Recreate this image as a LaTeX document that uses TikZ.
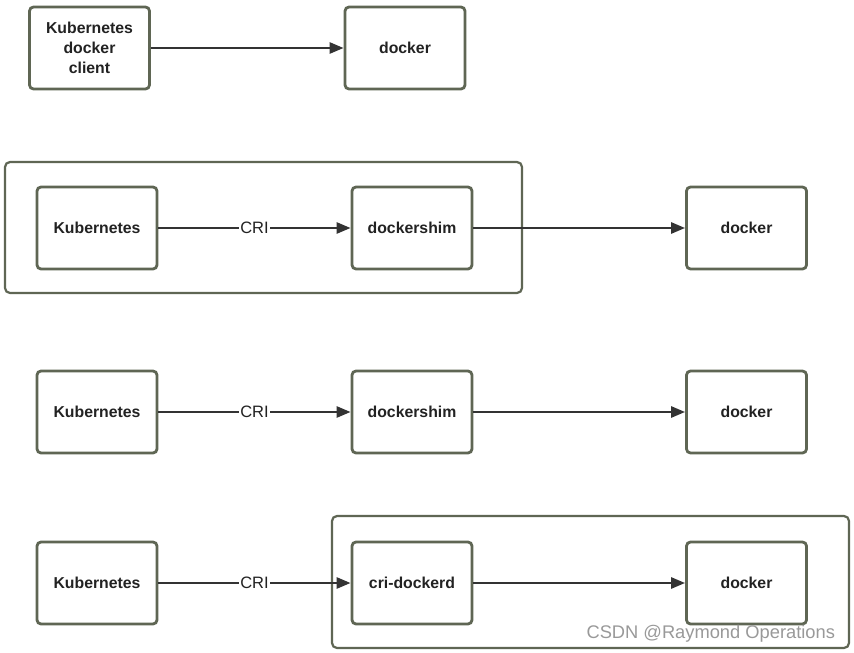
\documentclass[tikz,border=0pt]{standalone}
\usepackage{fontspec}
\setmainfont{Liberation Sans}
\usetikzlibrary{arrows.meta}
\definecolor{boxc}{HTML}{5F6654}
\definecolor{arrc}{HTML}{333333}
\definecolor{txtc}{HTML}{222222}
\tikzset{
  box/.style={draw=boxc, line width=2.8pt, rounded corners=4pt, minimum width=120pt, minimum height=82pt, inner sep=0pt, align=center, font=\bfseries\fontsize{15.8}{20}\selectfont, text=txtc},
  frame/.style={draw=boxc, line width=2.2pt, rounded corners=5pt},
  conn/.style={draw=arrc, line width=2.6pt, -{Triangle[length=14pt, width=11pt]}},
  lbl/.style={fill=white, inner sep=1pt, font=\fontsize{16.5}{18}\selectfont, text=txtc}
}
\begin{document}
\begin{tikzpicture}[x=1pt, y=-1pt]
\useasboundingbox[fill=white] (0,0) rectangle (854,653);
% frames
\draw[frame] (5,162) rectangle (522,293);
\draw[frame] (332,516) rectangle (849,648);
% row 1
\node[box] (k1) at (89.5,48) {Kubernetes\\docker\\client};
\node[box] (d1) at (405,48) {docker};
\draw[conn] (k1) -- (d1);
% row 2
\node[box] (k2) at (97,228) {Kubernetes};
\node[box] (s2) at (412,228) {dockershim};
\node[box] (d2) at (746.5,228) {docker};
\draw[conn] (k2) -- node[lbl] {CRI} (s2);
\draw[conn] (s2) -- (d2);
% row 3
\node[box] (k3) at (97,412) {Kubernetes};
\node[box] (s3) at (412,412) {dockershim};
\node[box] (d3) at (746.5,412) {docker};
\draw[conn] (k3) -- node[lbl] {CRI} (s3);
\draw[conn] (s3) -- (d3);
% row 4
\node[box] (k4) at (97,583) {Kubernetes};
\node[box] (c4) at (412,583) {cri-dockerd};
\node[box] (d4) at (746.5,583) {docker};
\draw[conn] (k4) -- node[lbl] {CRI} (c4);
\draw[conn] (c4) -- (d4);
% watermark
\node[font=\fontsize{18.3}{20}\selectfont, text=black!40, anchor=east] (wm) at (838.5,634) {CSDN @Raymond Operations};
\end{tikzpicture}
\end{document}
